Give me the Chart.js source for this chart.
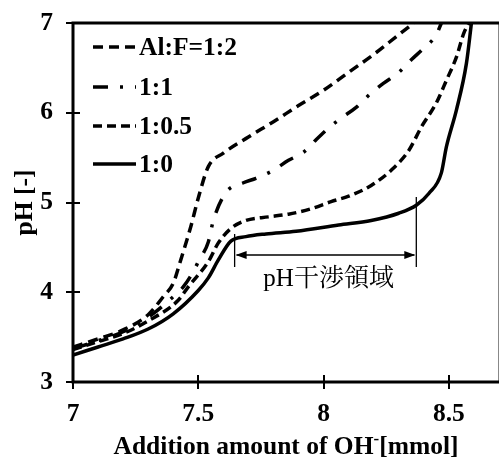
<!DOCTYPE html>
<html>
<head>
<meta charset="utf-8">
<script src="https://cdn.jsdelivr.net/npm/chart.js@4.4.1/dist/chart.umd.min.js"></script>
<style>
  html, body { margin: 0; padding: 0; background: #fff; }
</style>
</head>
<body>
<canvas id="chart" width="500" height="457"></canvas>
<script>
// Al:F = 1:2
const x12 = [7.0, 7.1, 7.2, 7.3, 7.36, 7.40, 7.43, 7.47, 7.50, 7.54, 7.6, 7.7, 7.8, 7.9, 8.0, 8.1, 8.2, 8.3, 8.36];
const y12 = [3.39, 3.48, 3.58, 3.75, 3.95, 4.10, 4.36, 4.73, 5.05, 5.40, 5.55, 5.73, 5.90, 6.08, 6.25, 6.45, 6.65, 6.87, 7.0];
// 1:1
const x11 = [7.0, 7.1, 7.2, 7.3, 7.40, 7.44, 7.48, 7.50, 7.54, 7.56, 7.61, 7.68, 7.73, 7.80, 7.86, 7.92, 7.97, 8.02, 8.07, 8.13, 8.19, 8.24, 8.30, 8.35, 8.40, 8.45, 8.47];
const y11 = [3.37, 3.46, 3.56, 3.72, 3.95, 4.06, 4.23, 4.34, 4.56, 4.80, 5.11, 5.22, 5.27, 5.36, 5.47, 5.56, 5.70, 5.83, 5.94, 6.06, 6.22, 6.33, 6.45, 6.59, 6.72, 6.87, 7.0];
// 1:0.5
const x105 = [7.0, 7.1, 7.2, 7.3, 7.42, 7.46, 7.54, 7.58, 7.63, 7.69, 7.78, 7.86, 7.95, 8.03, 8.10, 8.19, 8.27, 8.34, 8.39, 8.45, 8.49, 8.53, 8.56, 8.58];
const y105 = [3.36, 3.45, 3.54, 3.68, 3.91, 4.06, 4.34, 4.55, 4.71, 4.80, 4.84, 4.87, 4.93, 5.01, 5.07, 5.19, 5.36, 5.58, 5.84, 6.11, 6.36, 6.62, 6.89, 7.0];
// 1:0
const x10 = [7.0, 7.1, 7.2, 7.3, 7.4, 7.5, 7.54, 7.58, 7.63, 7.69, 7.77, 7.89, 8.06, 8.19, 8.30, 8.37, 8.42, 8.47, 8.49, 8.53, 8.57, 8.59];
const y10 = [3.30, 3.39, 3.48, 3.59, 3.76, 4.02, 4.16, 4.36, 4.57, 4.62, 4.65, 4.68, 4.75, 4.80, 4.88, 4.97, 5.10, 5.33, 5.62, 6.03, 6.55, 7.0];

const seriesLabels = ["Al:F=1:2", "1:1", "1:0.5", "1:0"];
const xTicks = [7, 7.5, 8, 8.5];
const yTicks = [3, 4, 5, 6, 7];

// pH interference region annotation
const regionStart = 7.645;
const regionEnd = 8.37;
const regionText = "pH干渉領域";

const SERIF = "'Liberation Serif', 'Times New Roman', serif";
const CJK = "'Liberation Serif', 'Noto Serif CJK JP', 'Noto Sans CJK JP', serif";
const BOLD = `bold 25.5px ${SERIF}`;

function toPoints(xs, ys) {
  return xs.map((x, i) => ({ x, y: ys[i] }));
}

const dashes = [[10, 6], [15, 12, 3, 12], [9, 5], []];
const seriesData = [toPoints(x12, y12), toPoints(x11, y11), toPoints(x105, y105), toPoints(x10, y10)];

const datasets = seriesLabels.map((label, i) => ({
  label,
  data: seriesData[i],
  borderColor: "#000",
  borderWidth: 3.5,
  borderDash: dashes[i],
  borderCapStyle: "butt",
  pointRadius: 0,
  fill: false,
  cubicInterpolationMode: "monotone"
}));

const framePlugin = {
  id: "frame",
  afterDatasetsDraw(chart) {
    const { ctx, chartArea: a, scales } = chart;
    const xs = scales.x;
    const ys = scales.y;
    ctx.save();

    // right border (thin grey) and top border
    ctx.strokeStyle = "#888";
    ctx.lineWidth = 1;
    ctx.beginPath();
    ctx.moveTo(a.right - 0.5, a.top);
    ctx.lineTo(a.right - 0.5, a.bottom);
    ctx.stroke();

    ctx.strokeStyle = "#000";
    ctx.lineWidth = 3;
    ctx.beginPath();
    ctx.moveTo(a.left, a.top);
    ctx.lineTo(a.right, a.top);
    ctx.moveTo(a.left, a.top - 1.5);
    ctx.lineTo(a.left, a.bottom + 1.5);
    ctx.moveTo(a.left - 1.5, a.bottom);
    ctx.lineTo(a.right, a.bottom);
    ctx.stroke();

    // tick marks crossing the axes
    ctx.lineWidth = 2;
    ctx.beginPath();
    yTicks.forEach((v) => {
      const py = Math.round(ys.getPixelForValue(v));
      ctx.moveTo(a.left - 7, py);
      ctx.lineTo(a.left + 7, py);
    });
    xTicks.forEach((v) => {
      const px = Math.round(xs.getPixelForValue(v));
      ctx.moveTo(px, a.bottom - 7);
      ctx.lineTo(px, a.bottom + 7);
    });
    ctx.stroke();

    // y title
    ctx.fillStyle = "#000";
    ctx.font = BOLD;
    ctx.save();
    ctx.translate(25, (a.top + a.bottom) / 2);
    ctx.rotate(-Math.PI / 2);
    ctx.textAlign = "center";
    ctx.textBaseline = "middle";
    ctx.fillText("pH [-]", 0, 0);
    ctx.restore();

    // x title with superscript minus
    const partA = "Addition amount of OH";
    const partB = "-";
    const partC = "[mmol]";
    ctx.font = BOLD;
    const wA = ctx.measureText(partA).width;
    const wC = ctx.measureText(partC).width;
    ctx.font = `bold 17px ${SERIF}`;
    const wB = ctx.measureText(partB).width;
    const total = wA + wB + wC;
    let tx = (a.left + a.right) / 2 - total / 2;
    const base = 454;
    ctx.textAlign = "left";
    ctx.textBaseline = "alphabetic";
    ctx.font = BOLD;
    ctx.fillText(partA, tx, base);
    tx += wA;
    ctx.font = `bold 17px ${SERIF}`;
    ctx.fillText(partB, tx, base - 10);
    tx += wB;
    ctx.font = BOLD;
    ctx.fillText(partC, tx, base);

    // legend inside the plot
    const rows = [47, 87, 126, 164];
    chart.data.datasets.forEach((ds, i) => {
      const y = rows[i];
      ctx.strokeStyle = "#000";
      ctx.lineWidth = 3.5;
      ctx.lineCap = "butt";
      ctx.setLineDash(ds.borderDash);
      ctx.beginPath();
      ctx.moveTo(93, y);
      ctx.lineTo(136, y);
      ctx.stroke();
      ctx.setLineDash([]);
      ctx.font = BOLD;
      ctx.textAlign = "left";
      ctx.textBaseline = "middle";
      ctx.fillText(ds.label, 139, y + 1);
    });

    // annotation: interference region
    const lx = xs.getPixelForValue(regionStart);
    const rx = xs.getPixelForValue(regionEnd);
    const ay = ys.getPixelForValue(4.415);
    ctx.lineWidth = 1.3;
    ctx.beginPath();
    ctx.moveTo(lx, ys.getPixelForValue(4.65));
    ctx.lineTo(lx, ys.getPixelForValue(4.28));
    ctx.moveTo(rx, ys.getPixelForValue(5.06));
    ctx.lineTo(rx, ys.getPixelForValue(4.28));
    ctx.moveTo(lx + 2, ay);
    ctx.lineTo(rx - 2, ay);
    ctx.stroke();
    ctx.beginPath();
    ctx.moveTo(lx + 1, ay);
    ctx.lineTo(lx + 12, ay - 4);
    ctx.lineTo(lx + 12, ay + 4);
    ctx.closePath();
    ctx.moveTo(rx - 1, ay);
    ctx.lineTo(rx - 12, ay - 4);
    ctx.lineTo(rx - 12, ay + 4);
    ctx.closePath();
    ctx.fill();

    ctx.font = `25px ${CJK}`;
    ctx.textAlign = "center";
    ctx.textBaseline = "middle";
    ctx.fillText(regionText, xs.getPixelForValue(8.02), ys.getPixelForValue(4.14));

    ctx.restore();
  }
};

function draw() {
  new Chart(document.getElementById("chart"), {
    type: "line",
    data: { datasets },
    plugins: [framePlugin],
    options: {
      responsive: false,
      animation: false,
      layout: { padding: { top: 23, right: 1, left: 0, bottom: 0 } },
      plugins: {
        legend: { display: false },
        tooltip: { enabled: false }
      },
      scales: {
        x: {
          type: "linear",
          min: 7,
          max: 8.7,
          afterFit: (s) => { s.height = 75; s.paddingLeft = 0; s.paddingRight = 0; },
          afterBuildTicks: (s) => { s.ticks = xTicks.map((v) => ({ value: v })); },
          grid: { display: false, drawTicks: false },
          border: { display: false },
          ticks: {
            color: "#000",
            padding: 17,
            font: { family: SERIF, size: 25.5, weight: "bold" },
            callback: (v) => String(v)
          }
        },
        y: {
          min: 3,
          max: 7,
          afterFit: (s) => { s.width = 73; s.paddingTop = 0; s.paddingBottom = 0; },
          afterBuildTicks: (s) => { s.ticks = yTicks.map((v) => ({ value: v })); },
          grid: { display: false, drawTicks: false },
          border: { display: false },
          ticks: {
            color: "#000",
            padding: 20,
            font: { family: SERIF, size: 25.5, weight: "bold" },
            callback: (v) => String(v)
          }
        }
      }
    }
  });
}

Promise.all([
  document.fonts.load("bold 24px 'Liberation Serif'"),
  document.fonts.load("22px 'Noto Sans CJK JP'", regionText)
]).then(draw, draw);
</script>
</body>
</html>
